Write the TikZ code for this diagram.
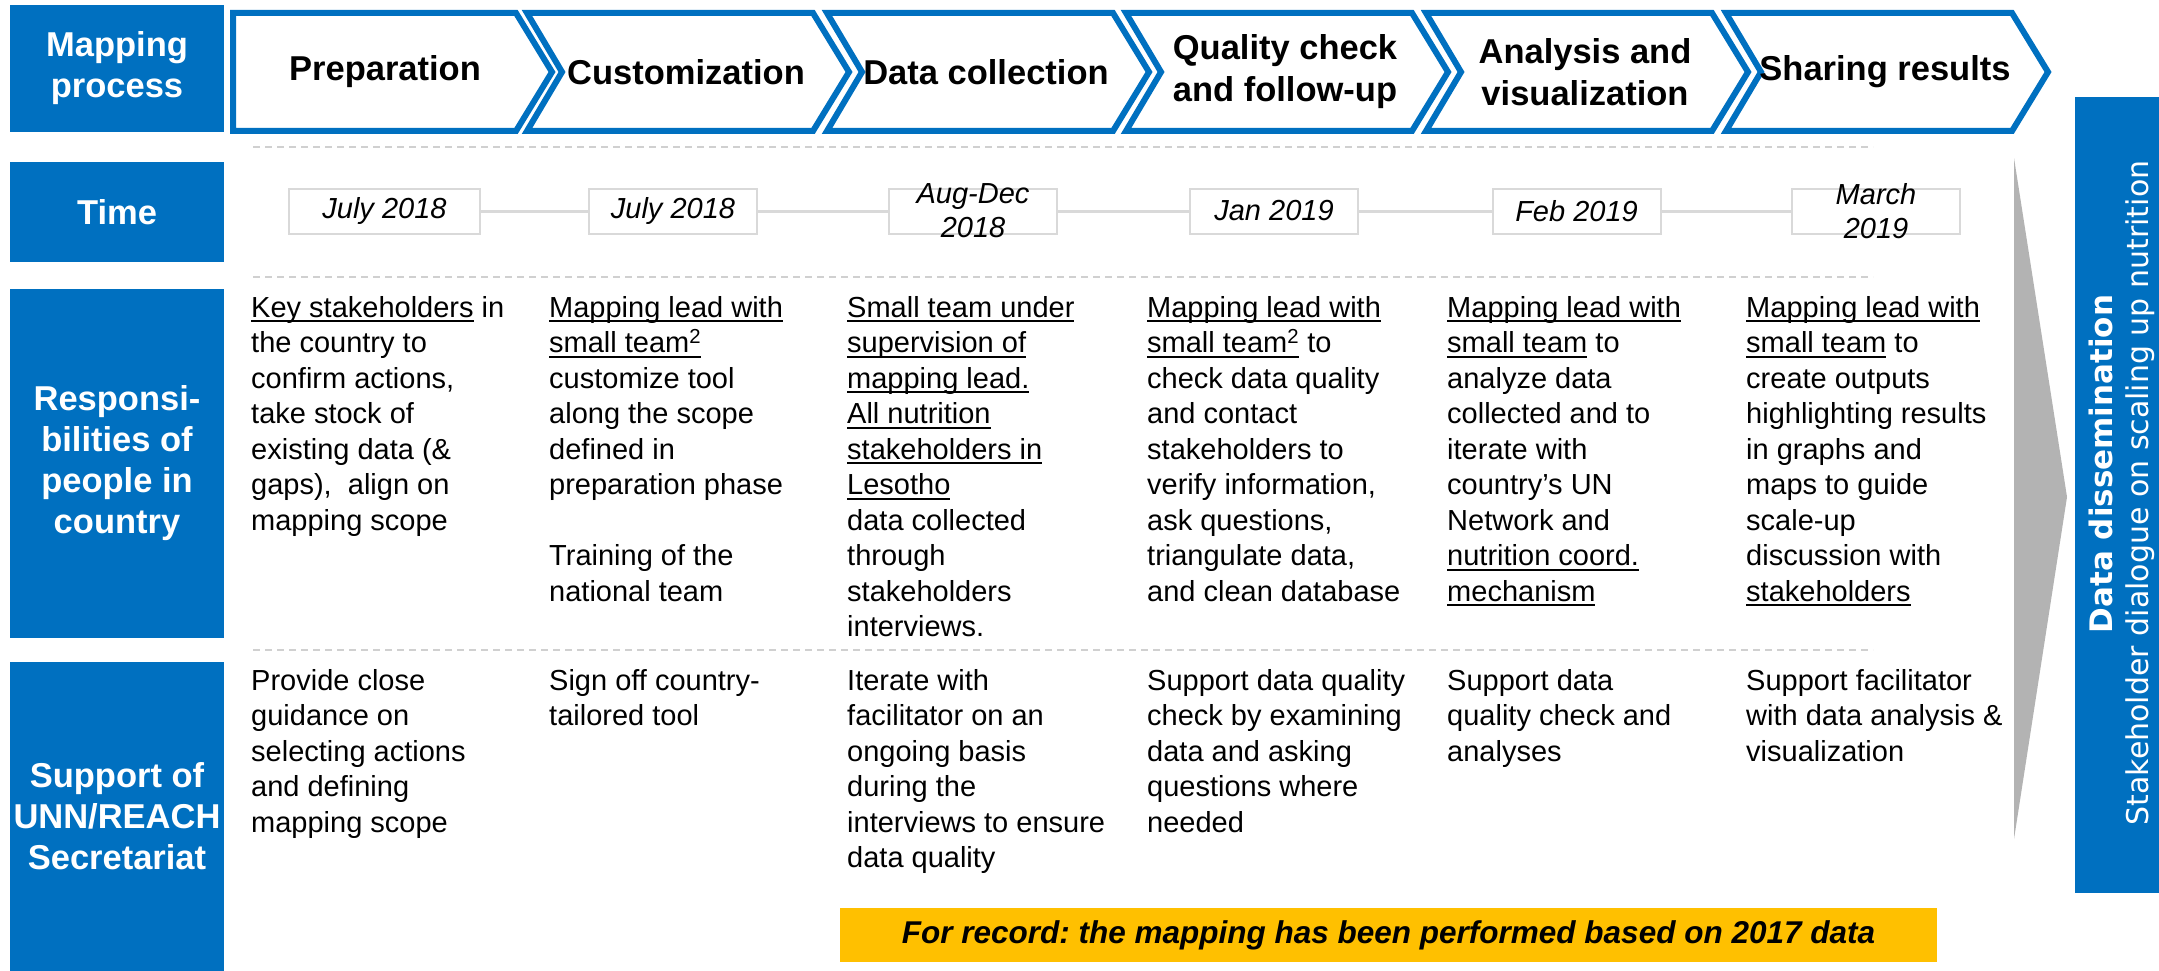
\documentclass[tikz,border=0pt]{standalone}
\usepackage{fontspec}
\setmainfont{Liberation Sans}
\newfontfamily\vfont{DejaVu Sans}
\frenchspacing
\definecolor{ublue}{HTML}{0070C0}
\definecolor{uyel}{HTML}{FFC000}
\definecolor{ugray}{HTML}{B3B3B3}
\definecolor{lgray}{HTML}{D9D9D9}
\definecolor{dgray}{HTML}{D0D0D0}
\newcommand{\myul}[1]{\setbox0\hbox{#1}\rlap{\rule[-0.17em]{\wd0}{0.07em}}\box0\relax}
\begin{document}
\begin{tikzpicture}[x=1pt,y=-1pt,
  lab/.style={fill=ublue, text=white, font=\bfseries\fontsize{34.5}{41}\selectfont, align=center, inner sep=0pt},
  chev/.style={draw=ublue, line width=6pt, fill=white, line join=miter},
  chevtext/.style={font=\bfseries\fontsize{34.5}{42}\selectfont, align=center, inner sep=0pt},
  body/.style={anchor=north west, inner sep=0pt, align=left, font=\fontsize{29}{35.5}\selectfont},
  datebox/.style={draw=lgray, line width=2pt, fill=white, minimum height=45pt, inner sep=0pt},
  datetext/.style={font=\itshape\fontsize{29}{34}\selectfont, align=center, inner sep=0pt},
  dateline/.style={draw=lgray, line width=3pt},
  sep/.style={draw=dgray, line width=2pt, dash pattern=on 7pt off 5pt}
]
\useasboundingbox (0,0) rectangle (2159,971);

% left labels
\node[lab, minimum width=214pt, minimum height=127pt] (lmap) at (117,68.5) {Mapping\\process};
\node[lab, minimum width=214pt, minimum height=100pt] (ltime) at (117,212) {Time};
\node[lab, minimum width=214pt, minimum height=349pt] (lresp) at (117,463.5) {Responsi-\\bilities of\\people in\\country};
\node[lab, minimum width=214pt, minimum height=309pt] (lsup) at (117,816.5) {Support of\\UNN/REACH\\Secretariat};

% chevrons
\draw[chev] (233,13) -- (516,13) -- (552,72) -- (516,131) -- (233,131) -- cycle;
\draw[chev] (527,13) -- (813,13) -- (849,72) -- (813,131) -- (527,131) -- (562,72) -- cycle;
\draw[chev] (827,13) -- (1113,13) -- (1149,72) -- (1113,131) -- (827,131) -- (862,72) -- cycle;
\draw[chev] (1126,13) -- (1412,13) -- (1448,72) -- (1412,131) -- (1126,131) -- (1161,72) -- cycle;
\draw[chev] (1426,13) -- (1712,13) -- (1748,72) -- (1712,131) -- (1426,131) -- (1461,72) -- cycle;
\draw[chev] (1726,13) -- (2012,13) -- (2048,72) -- (2012,131) -- (1726,131) -- (1761,72) -- cycle;
\node[chevtext] (p1) at (385,72) {Preparation};
\node[chevtext] (p2) at (686,72) {Customization};
\node[chevtext] (p3) at (986,72) {Data collection};
\node[chevtext] (p4) at (1285,72) {Quality check\\and follow-up};
\node[chevtext] (p5) at (1585,72) {Analysis and\\visualization};
\node[chevtext] (p6) at (1885,72) {Sharing results};

% separators
\draw[sep] (253,147) -- (1873,147);
\draw[sep] (253,277) -- (1873,277);
\draw[sep] (253,650) -- (1873,650);

% dates
\node[datebox, minimum width=191pt] (d1) at (384.5,211) {};
\node[datebox, minimum width=168pt] (d2) at (673,211) {};
\node[datebox, minimum width=168pt] (d3) at (973,211) {};
\node[datebox, minimum width=168pt] (d4) at (1274,211) {};
\node[datebox, minimum width=168pt] (d5) at (1576.5,211) {};
\node[datebox, minimum width=168pt] (d6) at (1876,211) {};
\draw[dateline] (d1.east) -- (d2.west);
\draw[dateline] (d2.east) -- (d3.west);
\draw[dateline] (d3.east) -- (d4.west);
\draw[dateline] (d4.east) -- (d5.west);
\draw[dateline] (d5.east) -- (d6.west);
\node[datetext] (t1) at (d1) {July 2018};
\node[datetext] (t2) at (d2) {July 2018};
\node[datetext] (t3) at (d3) {Aug-Dec\\2018};
\node[datetext] (t4) at (d4) {Jan 2019};
\node[datetext] (t5) at (d5) {Feb 2019};
\node[datetext] (t6) at (d6) {March\\2019};

% responsibilities
\node[body] (r1) at (251,292.15) {\strut\myul{Key stakeholders} in\\the country to\\confirm actions,\\take stock of\\existing data (\&\\gaps),~ align on\\mapping scope};
\node[body] (r2) at (549,292.15) {\strut\myul{Mapping lead with}\\\myul{small team\textsuperscript{2}}\\customize tool\\along the scope\\defined in\\preparation phase\\[35.5pt]Training of the\\national team};
\node[body] (r3) at (847,292.15) {\strut\myul{Small team under}\\\myul{supervision of}\\\myul{mapping lead.}\\\myul{All nutrition}\\\myul{stakeholders in}\\\myul{Lesotho}\\data collected\\through\\stakeholders\\interviews.};
\node[body] (r4) at (1147,292.15) {\strut\myul{Mapping lead with}\\\myul{small team\textsuperscript{2}} to\\check data quality\\and contact\\stakeholders to\\verify information,\\ask questions,\\triangulate data,\\and clean database};
\node[body] (r5) at (1447,292.15) {\strut\myul{Mapping lead with}\\\myul{small team} to\\analyze data\\collected and to\\iterate with\\country’s UN\\Network and\\\myul{nutrition coord.}\\\myul{mechanism}};
\node[body] (r6) at (1746,292.15) {\strut\myul{Mapping lead with}\\\myul{small team} to\\create outputs\\highlighting results\\in graphs and\\maps to guide\\scale-up\\discussion with\\\myul{stakeholders}};

% support
\node[body] (s1) at (251,665.15) {\strut Provide close\\guidance on\\selecting actions\\and defining\\mapping scope};
\node[body] (s2) at (549,665.15) {\strut Sign off country-\\tailored tool};
\node[body] (s3) at (847,665.15) {\strut Iterate with\\facilitator on an\\ongoing basis\\during the\\interviews to ensure\\data quality};
\node[body] (s4) at (1147,665.15) {\strut Support data quality\\check by examining\\data and asking\\questions where\\needed};
\node[body] (s5) at (1447,665.15) {\strut Support data\\quality check and\\analyses};
\node[body] (s6) at (1746,665.15) {\strut Support facilitator\\with data analysis \&\\visualization};

% note
\node[fill=uyel, minimum width=1097pt, minimum height=54pt, inner sep=0pt, font=\bfseries\itshape\fontsize{31.5}{36}\selectfont] (note) at (1388.5,935) {For record: the mapping has been performed based on 2017 data};

% grey arrow and right box
\fill[ugray] (2014,158) -- (2067,497) -- (2014,839) -- cycle;
\node[fill=ublue, minimum width=84pt, minimum height=796pt, inner sep=0pt, anchor=north west] (rb) at (2075,97) {};
\node[rotate=90, text=white, inner sep=0pt, font=\vfont\bfseries\fontsize{31}{36}\selectfont] (rb1) at (2101,464) {Data dissemination};
\node[rotate=90, text=white, inner sep=0pt, font=\vfont\fontsize{30}{36}\selectfont] (rb2) at (2140,493) {Stakeholder dialogue on scaling up nutrition};
\end{tikzpicture}
\end{document}
